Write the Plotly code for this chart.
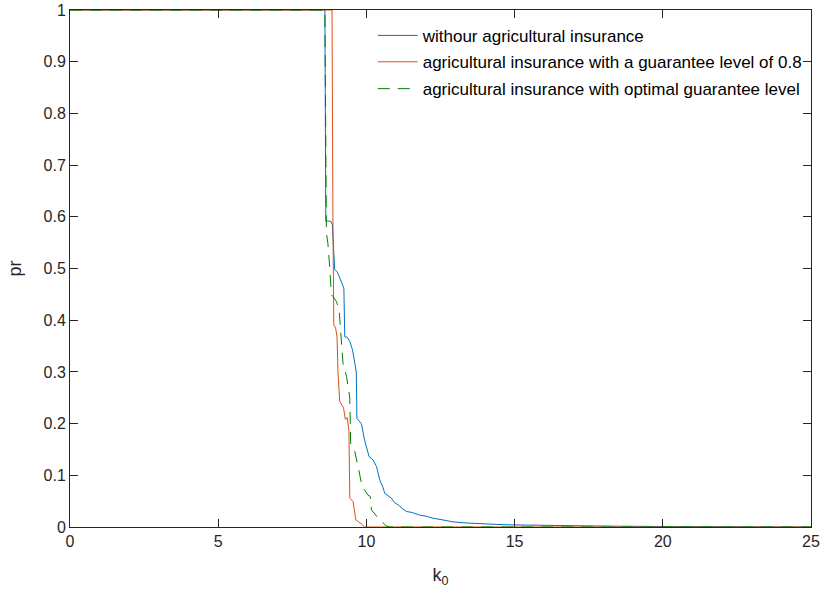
import plotly.graph_objects as go

# ---- data ----
blue_x = [0, 8.60, 8.63, 8.70, 8.80, 8.85, 8.93, 9.01, 9.08, 9.16, 9.24, 9.27, 9.35, 9.44, 9.53, 9.61,
          9.66, 9.68, 9.76, 9.83, 9.94, 10.02, 10.09, 10.22, 10.34, 10.45, 10.55, 10.62, 10.84, 10.95,
          11.07, 11.20, 11.35, 11.55, 11.80, 12.00, 12.25, 12.55, 12.92, 13.30, 13.82, 14.40, 14.97,
          16.0, 17.0, 18.5, 20.0, 22.0, 25.0]
blue_y = [1, 1, 0.591, 0.592, 0.591, 0.585, 0.498, 0.494, 0.485, 0.472, 0.462, 0.368, 0.367, 0.359, 0.343,
          0.317, 0.298, 0.210, 0.205, 0.200, 0.168, 0.150, 0.136, 0.130, 0.117, 0.091, 0.078, 0.065, 0.056,
          0.047, 0.043, 0.036, 0.030, 0.028, 0.023, 0.021, 0.017, 0.014, 0.010, 0.008, 0.006, 0.005, 0.004,
          0.003, 0.002, 0.0015, 0.001, 0.0005, 0]

orange_x = [0, 8.84, 8.87, 8.90, 8.96, 9.01, 9.04, 9.08, 9.10, 9.23, 9.29, 9.35, 9.41, 9.44, 9.55, 9.61,
            9.64, 9.83, 9.94, 25.0]
orange_y = [1, 1, 0.60, 0.391, 0.385, 0.368, 0.300, 0.246, 0.243, 0.230, 0.208, 0.212, 0.188, 0.056, 0.049,
            0.027, 0.014, 0.006, 0, 0]

green_x = [0, 8.60, 8.65, 8.70, 8.76, 8.82, 8.87, 8.99, 9.08, 9.12, 9.16, 9.21, 9.33, 9.44, 9.47, 9.49,
           9.61, 9.72, 9.86, 10.05, 10.13, 10.17, 10.34, 10.45, 10.67, 10.80, 25.0]
green_y = [1, 1, 0.569, 0.549, 0.504, 0.449, 0.446, 0.436, 0.420, 0.388, 0.349, 0.317, 0.291, 0.250, 0.160,
           0.155, 0.146, 0.117, 0.078, 0.062, 0.059, 0.033, 0.020, 0.014, 0.002, 0, 0]

names = ["withour agricultural insurance",
         "agricultural insurance with a guarantee level of 0.8",
         "agricultural insurance with optimal guarantee level"]

x_ticks = [0, 5, 10, 15, 20, 25]
y_ticks = [0, 0.1, 0.2, 0.3, 0.4, 0.5, 0.6, 0.7, 0.8, 0.9, 1]
y_tick_text = ["0", "0.1", "0.2", "0.3", "0.4", "0.5", "0.6", "0.7", "0.8", "0.9", "1"]

FONT = "Liberation Sans, Arial, sans-serif"
AX = "#262626"

fig = go.Figure()
fig.add_trace(go.Scatter(x=blue_x, y=blue_y, mode="lines", name=names[0],
                         line=dict(color="#0072BD", width=1), legend="legend"))
fig.add_trace(go.Scatter(x=orange_x, y=orange_y, mode="lines", name=names[1],
                         line=dict(color="#D95319", width=1), legend="legend2"))
fig.add_trace(go.Scatter(x=green_x, y=green_y, mode="lines", name=names[2],
                         line=dict(color="#008000", width=1, dash="12px,8px"), legend="legend3"))

axis_common = dict(showline=True, linecolor=AX, linewidth=1, mirror="ticks", ticks="inside",
                   ticklen=8, tickcolor=AX, showgrid=False, zeroline=False, automargin=False,
                   ticklabeloverflow="allow",
                   tickfont=dict(family=FONT, size=16, color=AX))

fig.update_xaxes(range=[0, 25], tickvals=x_ticks, **axis_common,
                 title=dict(text="k<sub>0</sub>", font=dict(family=FONT, size=18, color=AX), standoff=19))
fig.update_yaxes(range=[0, 1], tickvals=y_ticks, ticktext=y_tick_text, **axis_common,
                 title=dict(text="pr", font=dict(family=FONT, size=18, color=AX), standoff=17))

leg_common = dict(font=dict(family=FONT, size=17, color="#000000"), bgcolor="rgba(0,0,0,0)",
                  borderwidth=0, xanchor="left", yanchor="middle", x=(373 - 70.5) / 740.5,
                  itemwidth=40)
fig.update_layout(
    width=825, height=594,
    margin=dict(l=70, r=14, t=10, b=67),
    paper_bgcolor="white", plot_bgcolor="white",
    showlegend=True,
    legend=dict(**leg_common, y=0.950),
    legend2=dict(**leg_common, y=0.899),
    legend3=dict(**leg_common, y=0.847),
)

# remove the default page margin so the figure sits at the window's top-left corner
fig.write_html("out.html", config={"displayModeBar": False},
               post_script="document.body.style.margin='0';")
